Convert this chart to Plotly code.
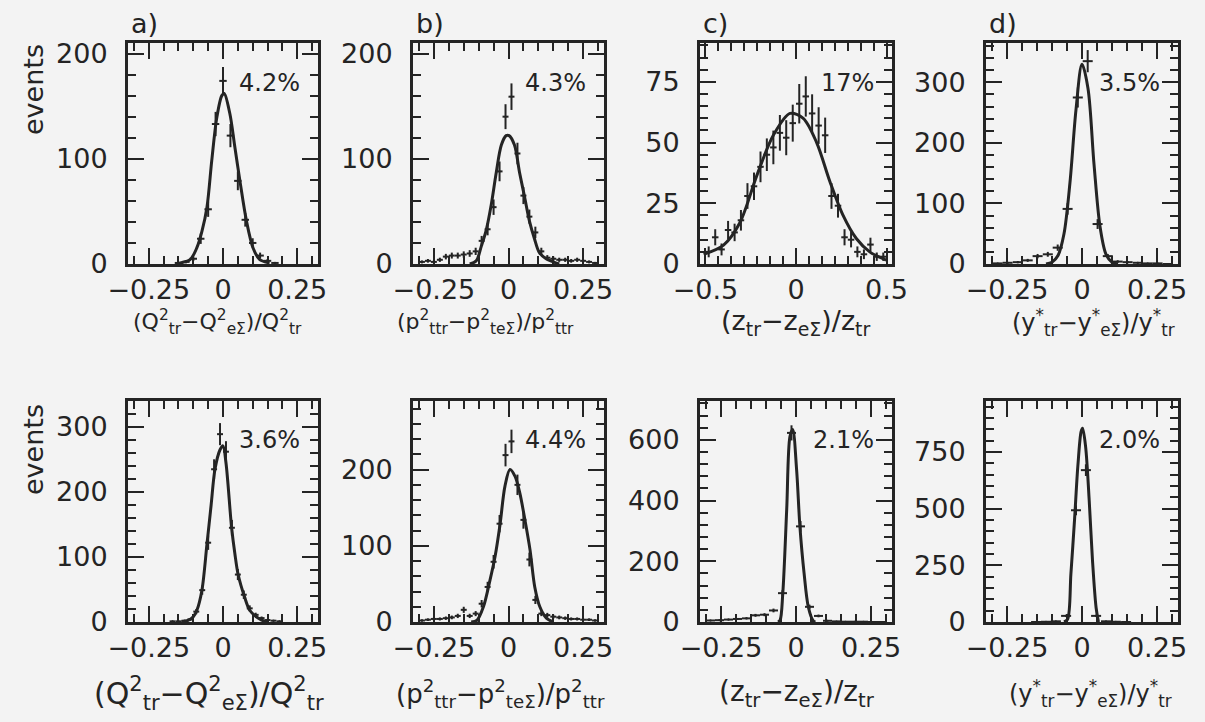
import plotly.graph_objects as go

# ---- data: bin centres, event counts, fitted curve samples ----
A_X = [-0.15, -0.125, -0.10, -0.075, -0.05, -0.025, 0.0, 0.025, 0.05, 0.075, 0.10, 0.125, 0.15, 0.175]
A_N = [1, 2, 5, 24, 52, 133, 174, 122, 79, 42, 20, 8, 3, 1]
A_FIT_X = [-0.16, -0.143, -0.11, -0.088, -0.071, -0.054, -0.038, -0.021, -0.004, 0.004, 0.023, 0.04, 0.057, 0.079, 0.101, 0.123, 0.157]
A_FIT_Y = [0, 1, 4.4, 15.5, 31, 54, 98, 139, 160, 162, 143, 111, 79, 41, 15.5, 4.4, 1]

B_X = [-0.29, -0.27, -0.25, -0.23, -0.21, -0.19, -0.17, -0.15, -0.13, -0.11, -0.09, -0.07, -0.05, -0.03, -0.01,
       0.01, 0.03, 0.05, 0.07, 0.09, 0.11, 0.13, 0.15, 0.17, 0.19, 0.21, 0.23, 0.25, 0.27, 0.29]
B_N = [2, 3, 2, 4, 7, 8, 8, 9, 10, 12, 22, 33, 54, 88, 140, 159, 105, 65, 45, 30, 12, 6, 5, 4, 4, 3, 4, 3, 2, 1]
B_FIT_X = [-0.13, -0.108, -0.091, -0.074, -0.058, -0.041, -0.024, -0.008, 0.002, 0.02, 0.037, 0.053, 0.07, 0.087, 0.103, 0.126, 0.15, 0.17]
B_FIT_Y = [0, 3, 17, 33, 56, 87, 113, 122, 122, 113, 87, 65, 41, 24, 11, 5, 2, 0]

C_X = [-0.482, -0.446, -0.411, -0.375, -0.339, -0.304, -0.268, -0.232, -0.196, -0.161, -0.125, -0.089, -0.054, -0.018,
       0.018, 0.054, 0.089, 0.125, 0.161, 0.196, 0.232, 0.268, 0.304, 0.339, 0.375, 0.411, 0.446, 0.482]
C_N = [5, 11, 6, 14, 13, 18, 28, 32, 40, 45, 48, 54, 52, 58, 66, 69, 62, 57, 53, 28, 24, 11, 10, 5, 4, 8, 3, 3]
C_FIT_X = [-0.51, -0.40, -0.31, -0.216, -0.125, -0.033, 0.04, 0.114, 0.187, 0.26, 0.333, 0.407, 0.498]
C_FIT_Y = [4, 7.8, 17, 36.5, 53, 62, 60, 50, 34, 20, 10.5, 5, 1.6]

D_X = [-0.281, -0.248, -0.214, -0.181, -0.148, -0.114, -0.081, -0.048, -0.014, 0.019, 0.052, 0.086, 0.119, 0.152, 0.186, 0.219, 0.252, 0.286]
D_N = [1, 2, 3, 6, 13, 16, 27, 91, 275, 335, 66, 13, 4, 3, 2, 1, 1, 0]
D_FIT_X = [-0.12, -0.10, -0.08, -0.06, -0.04, -0.02, 0.0, 0.02, 0.04, 0.06, 0.08, 0.10, 0.12]
D_FIT_Y = [0, 3, 14, 50, 135, 255, 330, 290, 165, 62, 16, 3, 0]

E_X = [-0.17, -0.15, -0.13, -0.11, -0.09, -0.07, -0.05, -0.03, -0.01, 0.01, 0.03, 0.05, 0.07, 0.09, 0.11, 0.13, 0.15, 0.17, 0.19]
E_N = [1, 1, 2, 4, 16, 49, 122, 235, 289, 262, 145, 73, 42, 21, 11, 6, 3, 2, 1]
E_FIT_X = [-0.14, -0.12, -0.10, -0.088, -0.071, -0.054, -0.04, -0.027, -0.01, 0.0, 0.01, 0.029, 0.04, 0.051, 0.073, 0.09, 0.112, 0.13, 0.15]
E_FIT_Y = [0, 2, 8, 18, 49, 120, 180, 235, 265, 271, 245, 145, 105, 73, 38, 18, 8, 3, 0]

F_X = [-0.29, -0.27, -0.25, -0.23, -0.21, -0.19, -0.17, -0.15, -0.13, -0.11, -0.09, -0.07, -0.05, -0.03, -0.01,
       0.01, 0.03, 0.05, 0.07, 0.09, 0.11, 0.13, 0.15, 0.17, 0.19, 0.21, 0.23, 0.25, 0.27, 0.29]
F_N = [2, 3, 4, 4, 5, 6, 8, 16, 8, 11, 24, 46, 79, 129, 219, 237, 180, 134, 82, 29, 11, 9, 7, 6, 5, 4, 4, 3, 3, 2]
F_FIT_X = [-0.125, -0.105, -0.084, -0.062, -0.045, -0.028, -0.012, 0.005, 0.022, 0.038, 0.055, 0.072, 0.088, 0.105, 0.127, 0.15]
F_FIT_Y = [0, 2.6, 20, 55, 86, 129, 178, 200, 191, 169, 134, 95, 46, 20, 5, 0]

G_X = [-0.285, -0.255, -0.225, -0.195, -0.165, -0.135, -0.105, -0.075, -0.045, -0.015,
       0.015, 0.045, 0.075, 0.105, 0.135, 0.165, 0.195, 0.225, 0.255, 0.285]
G_N = [5, 6, 8, 10, 12, 22, 24, 38, 95, 623, 315, 50, 20, 4, 2, 1, 1, 1, 0, 0]
G_FIT_X = [-0.06, -0.053, -0.044, -0.031, -0.02, -0.011, 0.002, 0.013, 0.027, 0.041, 0.058, 0.065]
G_FIT_Y = [0, 6, 95, 370, 612, 634, 502, 315, 160, 50, 3, 0]

H_X = [-0.153, -0.12, -0.087, -0.053, -0.02, 0.013, 0.047, 0.08, 0.113, 0.147]
H_N = [0, 1, 3, 27, 493, 670, 27, 3, 1, 0]
H_FIT_X = [-0.06, -0.048, -0.037, -0.025, -0.014, -0.003, 0.002, 0.012, 0.024, 0.035, 0.047, 0.055]
H_FIT_Y = [0, 12, 212, 448, 685, 840, 855, 774, 537, 271, 63, 0]

# resolutions quoted in each panel
RESOLUTIONS = ["4.2%", "4.3%", "17%", "3.5%", "3.6%", "4.4%", "2.1%", "2.0%"]
PANEL_LETTERS = ["a)", "b)", "c)", "d)"]

# tick labels
X_TICKS_NARROW = [-0.25, 0, 0.25]
X_TICKS_WIDE = [-0.5, 0, 0.5]
A_YTICKS = [0, 100, 200]
B_YTICKS = [0, 100, 200]
C_YTICKS = [0, 25, 50, 75]
D_YTICKS = [0, 100, 200, 300]
E_YTICKS = [0, 100, 200, 300]
F_YTICKS = [0, 100, 200]
G_YTICKS = [0, 200, 400, 600]
H_YTICKS = [0, 250, 500, 750]

TITLES = [
    "(Q<sup>2</sup><sub>tr</sub>\u2212Q<sup>2</sup><sub>e\u03a3</sub>)/Q<sup>2</sup><sub>tr</sub>",
    "(p<sup>2</sup><sub>ttr</sub>\u2212p<sup>2</sup><sub>te\u03a3</sub>)/p<sup>2</sup><sub>ttr</sub>",
    "(z<sub>tr</sub>\u2212z<sub>e\u03a3</sub>)/z<sub>tr</sub>",
    "(y<sup>*</sup><sub>tr</sub>\u2212y<sup>*</sup><sub>e\u03a3</sub>)/y<sup>*</sup><sub>tr</sub>",
]

# ---- styling ----
W, H = 1205, 722
INK = "#242424"
PAPER = "#f3f3f3"
FONT = "DejaVu Sans"
COLS_PX = [(128, 318), (413, 604), (700, 892), (986, 1178)]
ROWS_PX = [(43, 264), (401, 622)]
TITLE_SIZE_TOP = [22, 22, 27, 24]
TITLE_SIZE_BOTTOM = [30, 26, 28, 24]
TITLE_X_TOP = [217, 485, 795, 1093]
TITLE_X_BOTTOM = [209, 500, 797, 1090]

panels = [
    dict(x=A_X, n=A_N, fx=A_FIT_X, fy=A_FIT_Y, hw=0.0125, xr=[-0.32, 0.32], xt=X_TICKS_NARROW, xm=0.05, yr=[0, 210], yt=A_YTICKS, ym=20),
    dict(x=B_X, n=B_N, fx=B_FIT_X, fy=B_FIT_Y, hw=0.01, xr=[-0.32, 0.32], xt=X_TICKS_NARROW, xm=0.05, yr=[0, 210], yt=B_YTICKS, ym=20),
    dict(x=C_X, n=C_N, fx=C_FIT_X, fy=C_FIT_Y, hw=0.018, xr=[-0.53, 0.53], xt=X_TICKS_WIDE, xm=1 / 14, yr=[0, 91], yt=C_YTICKS, ym=5),
    dict(x=D_X, n=D_N, fx=D_FIT_X, fy=D_FIT_Y, hw=0.0167, xr=[-0.32, 0.32], xt=X_TICKS_NARROW, xm=0.05, yr=[0, 365], yt=D_YTICKS, ym=20),
    dict(x=E_X, n=E_N, fx=E_FIT_X, fy=E_FIT_Y, hw=0.01, xr=[-0.32, 0.32], xt=X_TICKS_NARROW, xm=0.05, yr=[0, 340], yt=E_YTICKS, ym=20),
    dict(x=F_X, n=F_N, fx=F_FIT_X, fy=F_FIT_Y, hw=0.01, xr=[-0.32, 0.32], xt=X_TICKS_NARROW, xm=0.05, yr=[0, 290], yt=F_YTICKS, ym=20),
    dict(x=G_X, n=G_N, fx=G_FIT_X, fy=G_FIT_Y, hw=0.015, xr=[-0.32, 0.32], xt=X_TICKS_NARROW, xm=0.05, yr=[0, 728], yt=G_YTICKS, ym=40),
    dict(x=H_X, n=H_N, fx=H_FIT_X, fy=H_FIT_Y, hw=0.0167, xr=[-0.32, 0.32], xt=X_TICKS_NARROW, xm=0.05, yr=[0, 975], yt=H_YTICKS, ym=50),
]

fig = go.Figure()
axis_style = dict(
    showline=True, linewidth=3, linecolor=INK, mirror="allticks",
    ticks="inside", ticklen=16, tickwidth=2, tickcolor=INK,
    showgrid=False, zeroline=False, tickmode="array", automargin=False,
    tickfont=dict(family=FONT, size=27, color=INK),
)

annotations = []
for i, p in enumerate(panels):
    r, c = divmod(i, 4)
    k = i + 1
    xref = "x" if k == 1 else f"x{k}"
    yref = "y" if k == 1 else f"y{k}"
    xname = "xaxis" if k == 1 else f"xaxis{k}"
    yname = "yaxis" if k == 1 else f"yaxis{k}"
    x0, x1 = COLS_PX[c]
    y0, y1 = ROWS_PX[r]

    # statistical errors of the counts
    err = [v ** 0.5 for v in p["n"]]
    fig.add_trace(go.Scatter(
        x=p["x"], y=p["n"], xaxis=xref, yaxis=yref, mode="markers",
        marker=dict(size=2, color=INK),
        error_y=dict(type="data", array=err, width=0, thickness=2, color=INK),
        error_x=dict(type="constant", value=p["hw"], width=0, thickness=2, color=INK),
        showlegend=False, hoverinfo="skip"))
    fig.add_trace(go.Scatter(
        x=p["fx"], y=p["fy"], xaxis=xref, yaxis=yref, mode="lines",
        line=dict(color=INK, width=3, shape="spline", smoothing=0.9),
        showlegend=False, hoverinfo="skip"))

    fig.layout[xname] = dict(
        domain=[x0 / W, x1 / W], anchor=yref, range=p["xr"], tickvals=p["xt"],
        minor=dict(tickmode="linear", tick0=0, dtick=p["xm"], ticks="inside", ticklen=8, tickwidth=2, tickcolor=INK),
        ticklabelstandoff=0, **axis_style)
    fig.layout[yname] = dict(
        domain=[1 - y1 / H, 1 - y0 / H], anchor=xref, range=p["yr"], tickvals=p["yt"],
        minor=dict(tickmode="linear", tick0=0, dtick=p["ym"], ticks="inside", ticklen=8, tickwidth=2, tickcolor=INK),
        ticklabelstandoff=12, **axis_style)

    # resolution label in the upper right corner
    ry = 83 if r == 0 else 440
    annotations.append(dict(
        text=RESOLUTIONS[i], xref="paper", yref="paper", x=(x1 - 16) / W, y=1 - ry / H,
        xanchor="right", yanchor="middle", showarrow=False,
        font=dict(family=FONT, size=24, color=INK)))

    # axis title under each panel
    if r == 0:
        annotations.append(dict(
            text=TITLES[c], xref="paper", yref="paper", x=TITLE_X_TOP[c] / W, y=1 - 322 / H,
            xanchor="center", yanchor="middle", showarrow=False,
            font=dict(family=FONT, size=TITLE_SIZE_TOP[c], color=INK)))
        annotations.append(dict(
            text=PANEL_LETTERS[c], xref="paper", yref="paper", x=(x0 + 1) / W, y=1 - 23 / H,
            xanchor="left", yanchor="middle", showarrow=False,
            font=dict(family=FONT, size=27, color=INK)))
    else:
        annotations.append(dict(
            text=TITLES[c], xref="paper", yref="paper", x=TITLE_X_BOTTOM[c] / W, y=1 - 693 / H,
            xanchor="center", yanchor="middle", showarrow=False,
            font=dict(family=FONT, size=TITLE_SIZE_BOTTOM[c], color=INK)))

for yc in (90, 450):
    annotations.append(dict(
        text="events", xref="paper", yref="paper", x=33 / W, y=1 - yc / H,
        xanchor="center", yanchor="middle", textangle=-90, showarrow=False,
        font=dict(family=FONT, size=27, color=INK)))

fig.update_layout(
    width=W, height=H, margin=dict(l=0, r=0, t=0, b=0),
    paper_bgcolor=PAPER, plot_bgcolor="rgba(0,0,0,0)",
    annotations=annotations, showlegend=False,
)

fig.write_html("out.html")
